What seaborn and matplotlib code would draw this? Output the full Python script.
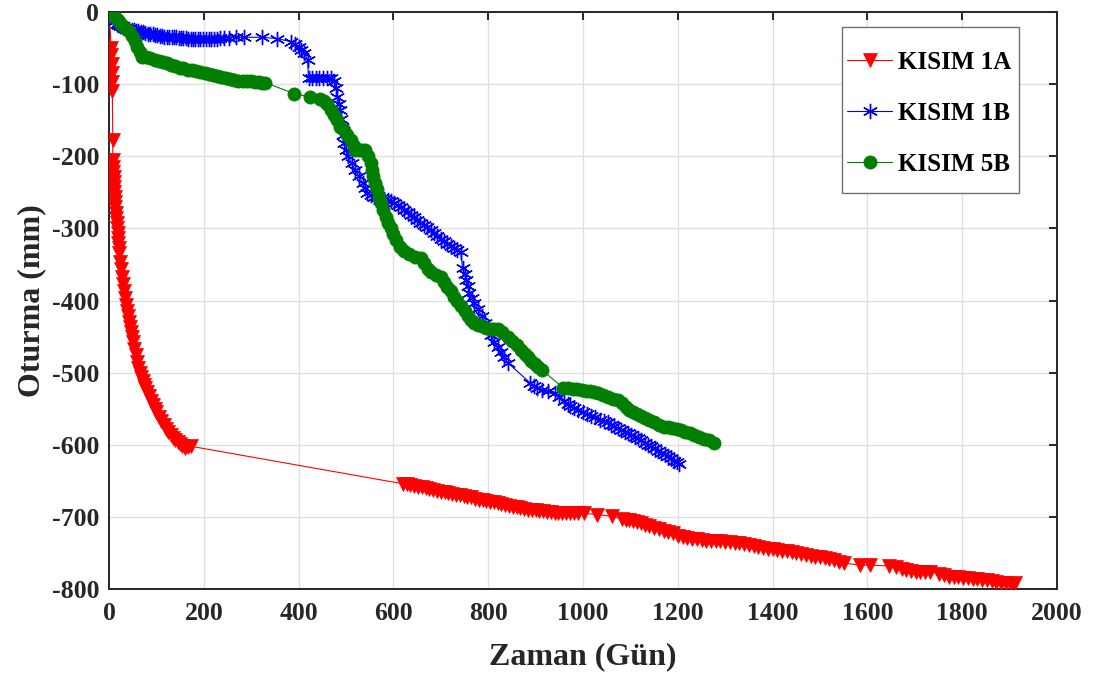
import numpy as np
import pandas as pd
import matplotlib
matplotlib.use("Agg")
import matplotlib.pyplot as plt
from matplotlib.patches import Rectangle
import seaborn as sns

# ---------------- data ----------------
k1a_day = [0, 5, 5, 6, 6, 7, 7, 8, 8, 9, 9, 10, 10, 11, 11, 12, 12, 13, 14, 15, 16, 17, 18, 19, 20, 21, 22,
           24, 26, 28, 30, 32, 34, 36, 38, 40, 42, 44, 46, 48, 50, 53, 56, 59, 62, 65, 68, 71, 74, 77, 80,
           84, 88, 92, 96, 100, 105, 110, 115, 120, 125, 130, 135, 140, 145, 150, 155, 160, 166, 172,
           620, 628, 636, 644, 652, 660, 668, 676, 684, 692, 700, 708, 716, 724, 732, 740, 748, 756, 764, 772,
           780, 788, 796, 804, 812, 820, 828, 836, 844, 852, 860, 868, 876, 884, 892, 900, 908, 916, 924, 932,
           940, 948, 956, 964, 972, 980, 990, 1003, 1030, 1062, 1082, 1090, 1098,
           1106, 1114, 1122, 1130, 1140, 1150, 1160, 1170, 1180, 1190, 1200, 1210, 1220, 1230, 1240, 1250,
           1260, 1270, 1280, 1290, 1300, 1310, 1320, 1330, 1340, 1350, 1360, 1370, 1380, 1390, 1400, 1410,
           1420, 1430, 1440, 1450, 1460, 1470, 1480, 1490, 1500, 1510, 1520, 1530, 1540, 1550,
           1585, 1605, 1645, 1660, 1672, 1682, 1692, 1702, 1712, 1722, 1732, 1752, 1762, 1772, 1782, 1792,
           1802, 1812, 1822, 1832, 1842, 1852, 1862, 1872, 1882, 1892, 1902, 1912]
k1a_val = [0, -50, -60, -72, -85, -97, -110, -178, -205, -215, -222, -229, -236, -243, -250, -257, -264,
           -271, -278, -285, -292, -299, -306, -313, -320, -327, -334,
           -346, -357, -367, -377, -387, -397, -406, -414, -422, -430, -437, -444, -451, -458,
           -467, -476, -485, -493, -500, -506, -512, -517, -522, -527,
           -533, -539, -545, -550, -555, -561, -567, -573, -578, -583, -587, -590, -593, -596, -599, -602, -605,
           -603, -602,
           -654, -655, -656, -657, -658, -659, -660, -662, -663, -664, -665, -666, -667, -668, -669, -670, -671,
           -672, -673, -675, -676, -677, -678, -679, -680, -681, -682, -684, -685, -686, -687, -688, -689, -690,
           -690, -691, -692, -692, -693, -693, -694, -694, -694, -694, -695, -695, -695, -695, -697, -699, -703,
           -704, -705,
           -706, -707, -709, -711, -713, -715, -717, -719, -721, -723, -726, -728, -729, -730, -731, -732,
           -733, -733, -734, -734, -735, -735, -736, -736, -737, -739, -741, -742, -743, -744, -745, -746,
           -747, -748, -749, -750, -751, -753, -754, -755, -756, -757, -758, -760, -762, -764,
           -767, -767, -768, -769, -772, -774, -775, -776, -776, -776, -776, -779, -781, -783, -784, -784,
           -785, -785, -786, -786, -787, -788, -789, -790, -791, -792, -793, -792]

k1b_day = [0, 4, 8, 12, 16, 20, 24, 28, 33, 38, 43, 48, 52, 57, 62, 67, 72, 77, 82, 87, 92, 97, 102, 107,
           112, 117, 122, 127, 132, 137, 142, 147, 152, 157, 162, 167, 172, 177, 182, 187, 193, 198, 204, 210,
           216, 222, 228, 235, 243, 253, 268, 285, 323, 355, 383, 393, 400, 406, 412, 419, 421, 428, 436, 444,
           452, 460, 468, 475, 479, 482, 485, 488, 490, 492, 494, 495, 500, 505, 512, 519, 527, 535, 540, 545,
           552, 560, 567, 574, 581, 588, 595, 602, 609, 616, 623, 630, 637, 643, 650, 657, 664, 671, 679, 686,
           693, 700, 707, 714, 721, 728, 735, 742, 746, 750, 753, 757, 760, 765, 771, 778, 786, 793, 800, 806,
           813, 820, 827, 834, 841, 888, 896, 904, 913, 926, 940, 950, 960, 968, 973, 982, 990, 999, 1008,
           1017, 1026, 1035, 1044, 1052, 1059, 1066, 1073, 1080, 1088, 1095, 1102, 1109, 1116, 1122, 1130,
           1137, 1144, 1151, 1158, 1165, 1172, 1179, 1186, 1193, 1198, 1203]
k1b_val = [0, -6, -10, -13, -16, -18, -19, -20, -22, -23, -24, -25, -25, -26, -27, -28, -28, -29, -30, -30,
           -31, -32, -32, -33, -33, -34, -34, -34, -35, -35, -35, -36, -36, -36, -36, -37, -37, -37, -37, -37,
           -37, -37, -37, -37, -37, -37, -37, -36, -36, -36, -35, -35, -35, -37, -41, -45, -48, -52, -57, -66,
           -92, -92, -92, -92, -92, -92, -92, -95, -105, -118, -128, -136, -148, -159, -170, -182, -191, -200,
           -210, -219, -228, -237, -244, -251, -254, -256, -257, -258, -259, -260, -262, -265, -268, -270,
           -274, -277, -281, -284, -288, -292, -295, -298, -302, -306, -310, -315, -318, -321, -324, -327,
           -330, -333, -355, -363, -371, -380, -389, -396, -403, -412, -421, -431, -440, -448, -458, -465,
           -472, -479, -486, -514, -518, -521, -524, -526, -528, -534, -539, -543, -546, -549, -552, -555,
           -558, -560, -562, -565, -567, -569, -572, -574, -577, -579, -582, -584, -587, -589, -591, -593,
           -597, -600, -602, -605, -608, -611, -613, -616, -619, -622, -624, -627]

k5b_day = [0, 6, 12, 18, 24, 30, 36, 42, 48, 54, 60, 65, 70, 78, 87, 96, 105, 114, 122, 131, 140, 149, 157,
           166, 175, 184, 193, 202, 211, 220, 228, 237, 246, 255, 264, 273, 282, 291, 299, 308, 316, 323, 330,
           390, 425, 445, 453, 460, 468, 475, 482, 488, 495, 503, 510, 516, 520, 527, 534, 541, 547, 552, 555,
           558, 562, 566, 570, 573, 578, 584, 589, 594, 600, 605, 614, 622, 632, 645, 658, 665, 672, 680, 690,
           700, 707, 714, 721, 728, 735, 742, 750, 757, 764, 771, 778, 786, 795, 805, 812, 820, 830, 841, 850,
           860, 870, 877, 884, 891, 898, 905, 913, 958, 968, 978, 988, 997, 1006, 1015, 1024, 1032, 1042,
           1052, 1063, 1074, 1082, 1090, 1098, 1106, 1114, 1122, 1130, 1140, 1150, 1160, 1170, 1179, 1188,
           1198, 1207, 1216, 1226, 1235, 1245, 1255, 1266, 1277]
k5b_val = [0, -3, -7, -11, -15, -19, -23, -27, -33, -40, -48, -56, -62, -63, -64, -66, -68, -70, -71, -73,
           -75, -77, -78, -80, -81, -82, -83, -85, -86, -88, -89, -90, -92, -93, -94, -95, -95, -96, -96, -97,
           -97, -98, -98, -113, -118, -120, -123, -128, -136, -143, -150, -159, -164, -170, -178, -186, -191,
           -191, -191, -191, -200, -210, -219, -228, -237, -246, -256, -265, -274, -284, -292, -299, -308,
           -316, -326, -332, -336, -339, -341, -348, -357, -361, -364, -368, -375, -381, -387, -395, -401,
           -407, -415, -422, -427, -431, -434, -436, -438, -439, -439, -440, -444, -450, -456, -462, -468,
           -474, -479, -484, -488, -492, -496, -521, -522, -523, -523, -524, -525, -526, -527, -528, -531,
           -534, -537, -538, -542, -547, -552, -555, -557, -560, -563, -566, -569, -572, -575, -576, -577,
           -578, -579, -582, -584, -586, -589, -592, -594, -597]

series_names = ["KISIM 1A", "KISIM 1B", "KISIM 5B"]
x_ticks = [0, 200, 400, 600, 800, 1000, 1200, 1400, 1600, 1800, 2000]
y_ticks = [0, -100, -200, -300, -400, -500, -600, -700, -800]

# ---------------- style ----------------
sns.set_theme(style="white")
plt.rcParams["font.family"] = ["Liberation Serif", "DejaVu Serif"]
plt.rcParams["font.weight"] = "bold"
plt.rcParams["axes.unicode_minus"] = False

fig = plt.figure(figsize=(10.93, 6.75), dpi=100)
ax = fig.add_axes([109 / 1093, 1 - 589 / 675, (1057 - 109) / 1093, (589 - 12) / 675])

df_a = pd.DataFrame({"Zaman": k1a_day, "Oturma": k1a_val})
df_b = pd.DataFrame({"Zaman": k1b_day, "Oturma": k1b_val})
df_c = pd.DataFrame({"Zaman": k5b_day, "Oturma": k5b_val})

sns.lineplot(data=df_a, x="Zaman", y="Oturma", ax=ax, sort=False, estimator=None,
             color="#ff0000", linewidth=0.8, marker="v", markersize=10.5,
             markerfacecolor="#ff0000", markeredgecolor="#ff0000", markeredgewidth=0.5,
             label=series_names[0], zorder=3)
sns.lineplot(data=df_b, x="Zaman", y="Oturma", ax=ax, sort=False, estimator=None,
             color="#0000ff", linewidth=0.8, marker=(6, 2, 0), markersize=11,
             markeredgecolor="#0000ff", markeredgewidth=1.0,
             label=series_names[1], zorder=4)
sns.lineplot(data=df_c, x="Zaman", y="Oturma", ax=ax, sort=False, estimator=None,
             color="#007f00", linewidth=0.8, marker="o", markersize=9.5,
             markerfacecolor="#007f00", markeredgecolor="#007f00", markeredgewidth=0.5,
             label=series_names[2], zorder=5)

ax.set_xlim(0, 2000)
ax.set_ylim(-800, 0)
ax.set_xticks(x_ticks)
ax.set_yticks(y_ticks)
ax.set_xticklabels([str(t) for t in x_ticks])
ax.set_yticklabels([str(t) for t in y_ticks])

ax.grid(True, color="#dedede", linewidth=0.9)
ax.set_axisbelow(True)
for sp in ax.spines.values():
    sp.set_visible(True)
    sp.set_color("#262626")
    sp.set_linewidth(1.4)

ax.tick_params(axis="both", direction="in", length=6, width=1.4, color="#262626",
               top=True, right=True, labelsize=18.5, labelcolor="#262626")
ax.tick_params(axis="x", pad=9)
ax.tick_params(axis="y", pad=7)
for lab in ax.get_xticklabels() + ax.get_yticklabels():
    lab.set_fontweight("bold")

ax.set_xlabel("Zaman (Gün)", fontsize=23, fontweight="bold", color="#262626", labelpad=13)
ax.set_ylabel("Oturma (mm)", fontsize=23, fontweight="bold", color="#262626", labelpad=4)

# legend box (frame drawn separately to match the reference padding)
ax.add_patch(Rectangle((0.7732, 0.6863), 0.9599 - 0.7732, 0.974 - 0.6863, transform=ax.transAxes,
                       facecolor="white", edgecolor="#707070", linewidth=1.0, zorder=9))
leg = ax.legend(loc="upper left", bbox_to_anchor=(0.7785, 0.933), borderaxespad=0,
                prop={"family": "Liberation Serif", "weight": "bold", "size": 18},
                frameon=False, handlelength=1.8, handletextpad=0.25, labelspacing=1.12, borderpad=0)
leg.set_zorder(10)
for t in leg.get_texts():
    t.set_color("black")

fig.savefig("out.png", dpi=100, facecolor="white")
